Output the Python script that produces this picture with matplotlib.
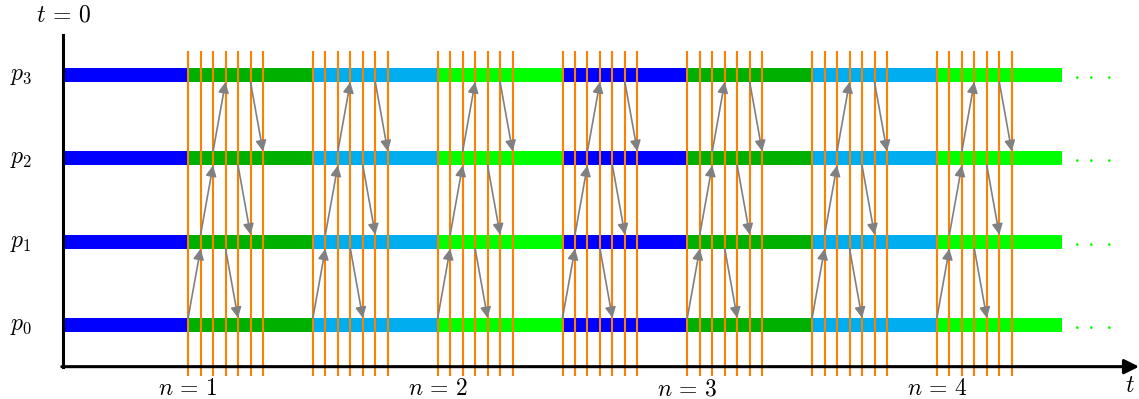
import numpy as np
import matplotlib
matplotlib.use("Agg")
import matplotlib.pyplot as plt

plt.rcParams['mathtext.fontset'] = 'cm'

# processos (linhas) e segmentos de tempo
processos = ["$p_0$", "$p_1$", "$p_2$", "$p_3$"]
cores_segmentos = ["#0000FF", "#00B000", "#00AEEF", "#00FF00",
                   "#0000FF", "#00B000", "#00AEEF", "#00FF00"]
fronteiras = [1, 2, 3, 4, 5, 6, 7]
rotulos_n = [r"$n\,=\,1$", r"$n\,=\,2$", r"$n\,=\,3$", r"$n\,=\,4$"]
posicoes_n = [1, 3, 5, 7]
passo = 0.1  # distancia entre as linhas laranja

fig = plt.figure(figsize=(11.39, 3.99), dpi=100)
ax = fig.add_axes([0, 0, 1, 1])
px = 124.8
py = 83.33
ax.set_xlim(-63.3 / px, (1139 - 63.3) / px)
ax.set_ylim((325 - 399) / py, 325 / py)
ax.axis("off")

esp = 14 / py

#barras coloridas
for i in range(len(processos)):
    for k, cor in enumerate(cores_segmentos):
        ax.barh(i, 1, left=k, height=esp, color=cor, linewidth=0, zorder=2)
    ax.text(8.25, i, r"$\cdot\,\cdot\,\cdot$", color="#00FF00", fontsize=17,
            ha="center", va="center", zorder=3)
    ax.text(-0.34, i, processos[i], fontsize=17, ha="center", va="center")

#linhas laranja
for b in fronteiras:
    for j in range(7):
        ax.plot([b + j * passo] * 2, [-0.6, 3.28], color="#FF8000",
                lw=1.5, zorder=3)

#setas cinzas
seta = dict(arrowstyle="-|>", color="#808080", lw=1.2,
            mutation_scale=16, shrinkA=0, shrinkB=0)
for b in fronteiras:
    for i in range(3):
        # subida
        ax.annotate("", xy=(b + (i + 1) * passo, i + 1 - esp / 2),
                    xytext=(b + i * passo, i + esp / 2),
                    arrowprops=seta, zorder=4)
        # descida
        ax.annotate("", xy=(b + (i + 4) * passo, i + esp / 2),
                    xytext=(b + (i + 3) * passo, i + 1 - esp / 2),
                    arrowprops=seta, zorder=4)

#eixos
ax.plot([0, 0], [-0.5, 3.48], color="black", lw=2.2, zorder=5,
        solid_capstyle="projecting")
ax.annotate("", xy=(8.62, -0.5), xytext=(-0.012, -0.5),
            arrowprops=dict(arrowstyle="-|>", color="black", lw=2.2,
                            mutation_scale=22, shrinkA=0, shrinkB=0),
            zorder=5, annotation_clip=False)

ax.text(0, 3.73, r"$t\,=\,0$", fontsize=17, ha="center", va="center")
ax.text(8.55, -0.72, "$t$", fontsize=17, ha="center", va="center")
for pos, rot in zip(posicoes_n, rotulos_n):
    ax.text(pos, -0.76, rot, fontsize=17, ha="center", va="center")

fig.savefig("out.png", dpi=100)
